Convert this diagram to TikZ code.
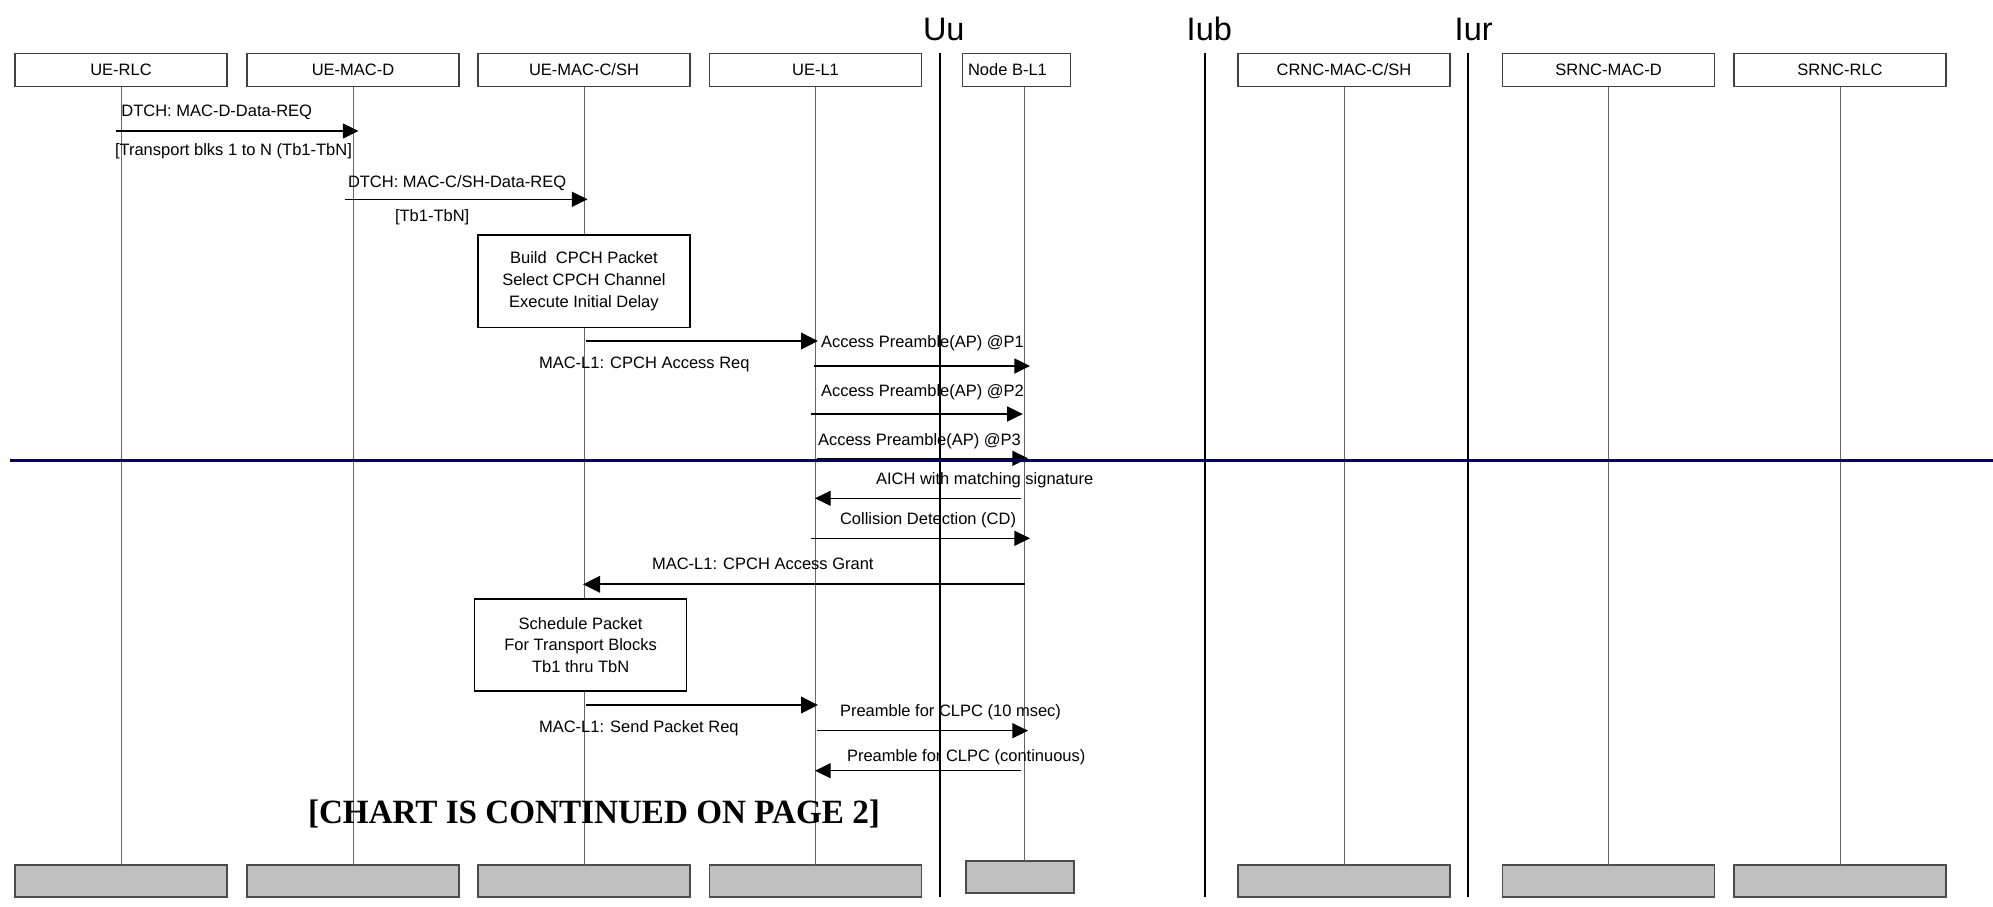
\documentclass[tikz,border=0pt]{standalone}
\usepackage{fontspec}
\setmainfont{Liberation Sans}
\newfontfamily\chartserif{Liberation Serif}
\usetikzlibrary{arrows.meta}
\definecolor{footgray}{HTML}{C0C0C0}
\definecolor{sepblue}{HTML}{000080}
\begin{document}
\begin{tikzpicture}[x=1pt,y=-1pt,
  every node/.style={font=\fontsize{16.5}{20}\selectfont, inner sep=0pt, outer sep=0pt},
  hdr/.style={draw=black!75, line width=1.2pt, minimum width=212pt, minimum height=33pt, fill=white},
  foot/.style={draw=black!70, line width=1.5pt, fill=footgray, minimum width=212pt, minimum height=32pt},
  life/.style={draw=black!60, line width=1pt},
  sepline/.style={draw=black, line width=2pt},
  msg/.style={draw=black, line width=1.2pt, -{Triangle[length=15.6pt,width=15pt]}},
  msgthick/.style={draw=black, line width=2pt, -{Triangle[length=17pt,width=16.5pt]}},
  lbl/.style={anchor=base west},
  act/.style={draw=black, line width=1.5pt, fill=white, align=center},
  iface/.style={font=\fontsize{32.5}{34}\selectfont, anchor=base west}
]
\useasboundingbox (0,0) rectangle (1993,906);

% interface separators
\coordinate (uuT) at (940,53);   \coordinate (uuB) at (940,897);
\coordinate (iubT) at (1204.5,53); \coordinate (iubB) at (1204.5,897);
\coordinate (iurT) at (1468,53); \coordinate (iurB) at (1468,897);
\draw[sepline] (uuT) -- (uuB);
\draw[sepline] (iubT) -- (iubB);
\draw[sepline] (iurT) -- (iurB);
\node[iface] (uu) at (923,40.7) {Uu};
\node[iface] (iub) at (1186.7,40.7) {Iub};
\node[iface] (iur) at (1454.7,40.7) {Iur};

% header boxes
\node[hdr] (rlc) at (121,70) {UE-RLC};
\node[hdr] (macd) at (353,70) {UE-MAC-D};
\node[hdr] (macc) at (584,70) {UE-MAC-C/SH};
\node[hdr] (uel1) at (815.5,70) {UE-L1};
\node[hdr, minimum width=108pt] (nb) at (1016.5,70) {};
\node[lbl] (nbt) at (968,75.9) {Node B-L1};
\node[hdr] (crnc) at (1344,70) {CRNC-MAC-C/SH};
\node[hdr] (srncd) at (1608.5,70) {SRNC-MAC-D};
\node[hdr] (srncr) at (1840,70) {SRNC-RLC};

% footer boxes
\node[foot] (rlcF) at (121,881) {};
\node[foot] (macdF) at (353,881) {};
\node[foot] (maccF) at (584,881) {};
\node[foot] (uel1F) at (815.5,881) {};
\node[foot, minimum width=108pt] (nbF) at (1020,877) {};
\node[foot] (crncF) at (1344,881) {};
\node[foot] (srncdF) at (1608.5,881) {};
\node[foot] (srncrF) at (1840,881) {};

% lifelines
\coordinate (nbLT) at (1024,86.5);
\coordinate (nbLB) at (1024,861);
\draw[life] (rlc.south) -- (rlcF.north);
\draw[life] (macd.south) -- (macdF.north);
\draw[life] (macc.south) -- (maccF.north);
\draw[life] (uel1.south) -- (uel1F.north);
\draw[life] (nbLT) -- (nbLB);
\draw[life] (crnc.south) -- (crncF.north);
\draw[life] (srncd.south) -- (srncdF.north);
\draw[life] (srncr.south) -- (srncrF.north);

% activity boxes
\node[act, minimum width=212.3pt, minimum height=92.3pt, font=\fontsize{16.5}{21.7}\selectfont] (build) at (583.9,281.2)
  {Build\ \ CPCH Packet\\Select CPCH Channel\\Execute Initial Delay};
\node[act, minimum width=212.1pt, minimum height=91.7pt, font=\fontsize{16.5}{21.2}\selectfont] (sched) at (580.6,644.9)
  {Schedule Packet\\For Transport Blocks\\Tb1 thru TbN};

% message end points
\coordinate (m1a) at (116,131);    \coordinate (m1b) at (358.5,131);
\coordinate (m2a) at (344.6,199.3); \coordinate (m2b) at (587.5,199.3);
\coordinate (m3a) at (586,341);    \coordinate (m3b) at (818,341);
\coordinate (m4a) at (814,366);    \coordinate (m4b) at (1030,366);
\coordinate (m5a) at (810.7,414);  \coordinate (m5b) at (1022.8,414);
\coordinate (m6a) at (817,458.3);  \coordinate (m6b) at (1028,458.3);
\coordinate (m7a) at (1021,498.3); \coordinate (m7b) at (815,498.3);
\coordinate (m8a) at (810.7,538.3); \coordinate (m8b) at (1030,538.3);
\coordinate (m9a) at (1024.5,584.3); \coordinate (m9b) at (583,584.3);
\coordinate (m10a) at (586,705);   \coordinate (m10b) at (818,705);
\coordinate (m11a) at (817,730.7); \coordinate (m11b) at (1028,730.7);
\coordinate (m12a) at (1021,770.7); \coordinate (m12b) at (815,770.7);

\draw[msg] (m1a) -- (m1b);
\draw[msg] (m2a) -- (m2b);
\draw[msgthick] (m3a) -- (m3b);
\draw[msg] (m4a) -- (m4b);
\draw[msg] (m5a) -- (m5b);
\draw[msg] (m6a) -- (m6b);
\draw[msg] (m7a) -- (m7b);
\draw[msg] (m8a) -- (m8b);
\draw[msgthick] (m9a) -- (m9b);
\draw[msgthick] (m10a) -- (m10b);
\draw[msg] (m11a) -- (m11b);
\draw[msg] (m12a) -- (m12b);

% labels
\node[lbl] (l1) at (121.4,116.4) {DTCH: MAC-D-Data-REQ};
\node[lbl] (l1b) at (115,155) {[Transport blks 1 to N (Tb1-TbN]};
\node[lbl] (l2) at (348,187) {DTCH: MAC-C/SH-Data-REQ};
\node[lbl] (l2b) at (395,221.5) {[Tb1-TbN]};
\node[lbl] (l3) at (539,368) {MAC-L1: CPCH Access Req};
\node[lbl] (l4) at (821,347) {Access Preamble(AP) @P1};
\node[lbl] (l5) at (821,396) {Access Preamble(AP) @P2};
\node[lbl] (l6) at (818,445) {Access Preamble(AP) @P3};
\node[lbl] (l7) at (876,484) {AICH with matching signature};
\node[lbl] (l8) at (840,524) {Collision Detection (CD)};
\node[lbl] (l9) at (652,569) {MAC-L1: CPCH Access Grant};
\node[lbl] (l10) at (539,732.5) {MAC-L1: Send Packet Req};
\node[lbl] (l11) at (840,716) {Preamble for CLPC (10 msec)};
\node[lbl] (l12) at (847,761) {Preamble for CLPC (continuous)};

% continuation note
\node[anchor=base west, font=\chartserif\bfseries\fontsize{34}{36}\selectfont] (cont) at (308,823.5) {\scalebox{0.975}[1]{[CHART IS CONTINUED ON PAGE 2]}};

% blue horizontal line
\coordinate (blA) at (10,460.5);
\coordinate (blB) at (1993,460.5);
\draw[draw=sepblue, line width=2.5pt] (blA) -- (blB);
\end{tikzpicture}
\end{document}
